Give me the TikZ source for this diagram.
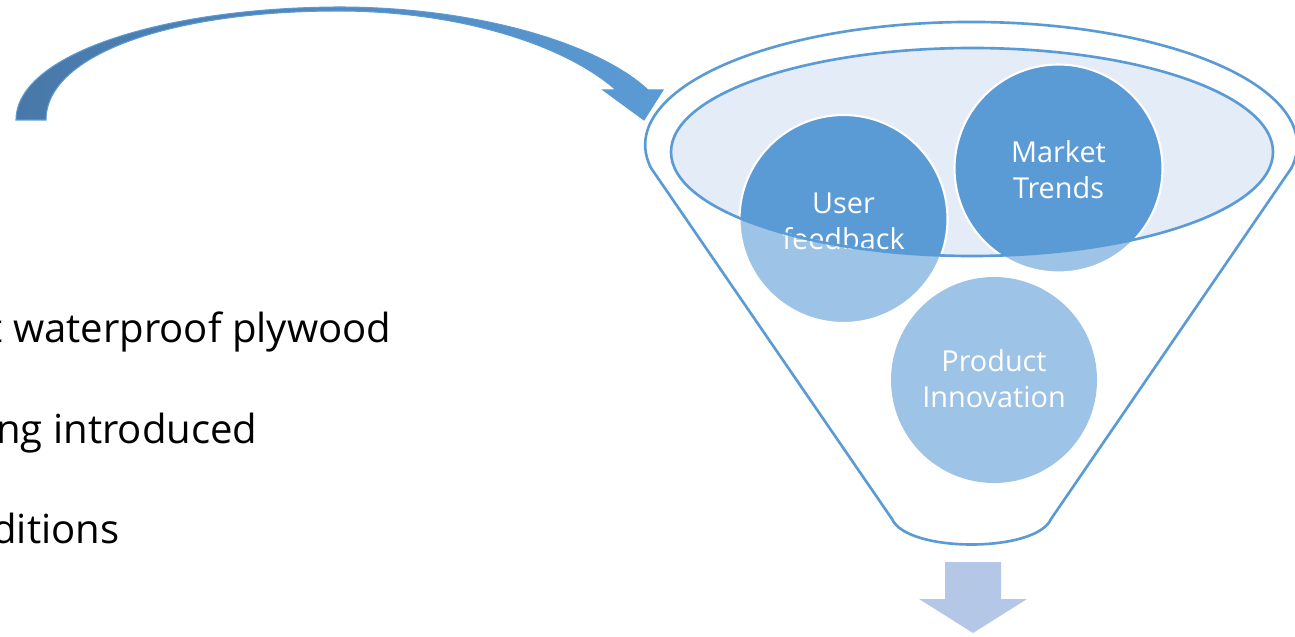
\documentclass[tikz,border=0pt]{standalone}
\usepackage{fontspec}
\setmainfont{Open Sans}
\definecolor{lineblue}{HTML}{5B9BD5}
\definecolor{darkfill}{HTML}{5B9BD5}
\definecolor{lightfill}{HTML}{9DC3E6}
\definecolor{rimfill}{HTML}{E4ECF7}
\definecolor{arrowdark}{HTML}{4878A8}
\definecolor{downfill}{HTML}{B4C7E7}
\begin{document}
\begin{tikzpicture}[x=0.01cm,y=-0.01cm,
  funnelline/.style={draw=lineblue,line width=0.75pt},
  circtext/.style={text=white,align=center,font=\fontsize{8.2pt}{10.24pt}\selectfont},
  sidetext/.style={anchor=base east,inner sep=0pt,font=\fontsize{11.4pt}{13pt}\selectfont},
  bubble/.style={draw=white,line width=0.6pt}]
\useasboundingbox (0,0) rectangle (1295,637);

% curved arrow
\shade[left color=arrowdark,right color=lineblue,draw=lineblue,line width=0.3pt]
  (16,120) .. controls (16,55) and (160,8) .. (338,7)
  .. controls (480,7) and (600,45) .. (648,90)
  -- (663,90) -- (644,120) -- (603,90) -- (616,90)
  .. controls (565,45) and (460,11) .. (338,11)
  .. controls (170,11) and (46,55) .. (46,120) -- cycle;

% funnel outline
\coordinate (fl) at (651,168);
\coordinate (fbl) at (892,519);
\coordinate (fbr) at (1051,519);
\coordinate (fr) at (1291,168);
\draw[funnelline] (fl) arc[start angle=169.2,end angle=370.8,x radius=326,y radius=123]
  -- (fbr) .. controls (1036,553) and (907,553) .. (fbl) -- cycle;

% inner rim
\fill[rimfill] (972,152) ellipse[x radius=301,y radius=104];

% circles (light)
\coordinate (cu) at (843.5,219);
\coordinate (cm) at (1058.5,168.5);
\coordinate (cp) at (994,380);
\fill[lightfill] (cu) circle[radius=104];
\fill[lightfill] (cm) circle[radius=104];
\fill[lightfill] (cp) circle[radius=103];
\begin{scope}
  \clip (972,152) ellipse[x radius=301,y radius=104];
  \fill[darkfill] (cu) circle[radius=104];
  \fill[darkfill] (cm) circle[radius=104];
\end{scope}
\draw[bubble] (cu) circle[radius=104];
\draw[bubble] (cm) circle[radius=104];

\node[circtext] (tu) at (843.5,221) {User\\feedback};
\node[circtext] (tm) at (1058.5,170) {Market\\Trends};
\node[circtext] (tp) at (994,379) {Product\\Innovation};

\draw[funnelline] (972,152) ellipse[x radius=301,y radius=104];

% down arrow
\fill[downfill] (945,562) -- (1001,562) -- (1001,599) -- (1027,599) -- (973,633)
  -- (919,599) -- (945,599) -- cycle;

% left text
\node[sidetext] (l1) at (392,342) {t waterproof plywood};
\node[sidetext] (l2) at (258,443) {ng introduced};
\node[sidetext] (l3) at (120,543) {ditions};
\end{tikzpicture}
\end{document}
